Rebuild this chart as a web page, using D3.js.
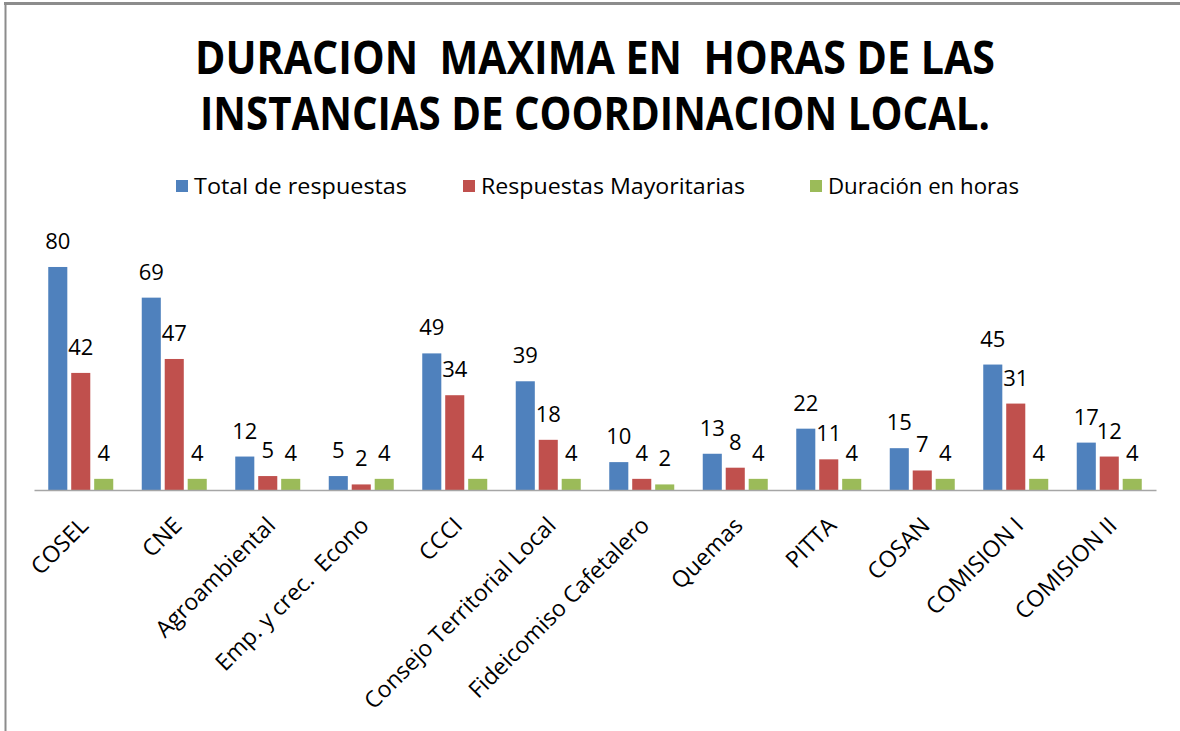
<!DOCTYPE html>
<html>
<head>
<meta charset="utf-8">
<script src="https://cdn.jsdelivr.net/npm/d3@7"></script>
<style>
  html, body { margin: 0; padding: 0; background: #fff; }
  svg { display: block; }
  text { font-family: "Open Sans", "DejaVu Sans", sans-serif; fill: #000; }
</style>
</head>
<body>
<svg id="chart" width="1180" height="731"></svg>
<script>
// Coordination bodies and their three measures
const categories = ["COSEL", "CNE", "Agroambiental", "Emp. y crec.  Econo", "CCCI",
  "Consejo Territorial Local", "Fideicomiso Cafetalero", "Quemas", "PITTA", "COSAN",
  "COMISION I", "COMISION II"];
const totalRespuestas = [80, 69, 12, 5, 49, 39, 10, 13, 22, 15, 45, 17];
const respuestasMayoritarias = [42, 47, 5, 2, 34, 18, 4, 8, 11, 7, 31, 12];
const duracionHoras = [4, 4, 4, 4, 4, 4, 2, 4, 4, 4, 4, 4];
const seriesNames = ["Total de respuestas", "Respuestas Mayoritarias", "Duración en horas"];
const seriesColors = ["#4F81BD", "#C0504D", "#9BBB59"];
const titleLines = ["DURACION  MAXIMA EN  HORAS DE LAS", "INSTANCIAS DE COORDINACION LOCAL."];

const seriesValues = [totalRespuestas, respuestasMayoritarias, duracionHoras];
const rows = categories.map((c, i) => ({
  category: c,
  values: seriesNames.map((s, j) => ({ series: s, index: j, value: seriesValues[j][i] }))
}));

const svg = d3.select("#chart");
svg.append("rect").attr("width", 1180).attr("height", 731).attr("fill", "#fff");

// Frame around the chart area
svg.append("line").attr("x1", 4).attr("x2", 1180).attr("y1", 3.5).attr("y2", 3.5)
  .attr("stroke", "#8c8c8c").attr("stroke-width", 3);
svg.append("line").attr("x1", 5.5).attr("x2", 5.5).attr("y1", 2).attr("y2", 731)
  .attr("stroke", "#8c8c8c").attr("stroke-width", 2);

// Title
const titleWidths = [800, 790];
svg.selectAll("text.title").data(titleLines).join("text")
  .attr("class", "title")
  .attr("x", 595)
  .attr("y", (d, i) => 74 + i * 56)
  .attr("text-anchor", "middle")
  .attr("font-size", 47)
  .attr("font-weight", 700)
  .style("white-space", "pre")
  .attr("textLength", (d, i) => titleWidths[i])
  .attr("lengthAdjust", "spacingAndGlyphs")
  .text(d => d);

// Legend
const legendX = [176, 463, 810];
const legendW = [213, 264, 191];
const legend = svg.selectAll("g.legend").data(seriesNames).join("g")
  .attr("class", "legend")
  .attr("transform", (d, i) => `translate(${legendX[i]},0)`);
legend.append("rect").attr("x", 0).attr("y", 180).attr("width", 12).attr("height", 12)
  .attr("fill", (d, i) => seriesColors[i]);
legend.append("text").attr("x", 18).attr("y", 194)
  .attr("font-size", 22)
  .attr("textLength", (d, i) => legendW[i])
  .attr("lengthAdjust", "spacingAndGlyphs")
  .text(d => d);

// Scales
const x0 = d3.scaleBand().domain(categories).range([34, 1156]).padding(0);
const x1 = d3.scaleBand().domain(seriesNames).range([0, 65]).paddingInner(0.17);
const y = d3.scaleLinear().domain([0, 90]).range([490, 239.1]);

const groups = svg.selectAll("g.group").data(rows).join("g")
  .attr("class", "group")
  .attr("transform", d => `translate(${x0(d.category) + x0.bandwidth() / 2 - 32.5},0)`);

groups.selectAll("rect").data(d => d.values).join("rect")
  .attr("x", d => x1(d.series))
  .attr("width", x1.bandwidth())
  .attr("y", d => y(d.value))
  .attr("height", d => y(0) - y(d.value))
  .attr("fill", d => seriesColors[d.index]);

groups.selectAll("text.val").data(d => d.values).join("text")
  .attr("class", "val")
  .attr("x", d => x1(d.series) + x1.bandwidth() / 2)
  .attr("y", d => y(d.value) - 18)
  .attr("text-anchor", "middle")
  .attr("font-size", 22)
  .text(d => d.value);

// Category axis
const axis = svg.append("g")
  .attr("transform", `translate(0,${y(0)})`)
  .call(d3.axisBottom(x0).tickSize(0).tickSizeOuter(0));
axis.select(".domain").attr("stroke", "#a6a6a6").attr("stroke-width", 1.5);
axis.selectAll(".tick text")
  .attr("font-family", "Open Sans")
  .attr("font-size", 23)
  .attr("fill", "#000")
  .attr("text-anchor", "end")
  .attr("x", 0).attr("y", 0).attr("dy", 0)
  .style("white-space", "pre")
  .attr("transform", "translate(9,37) rotate(-45)");
</script>
</body>
</html>
